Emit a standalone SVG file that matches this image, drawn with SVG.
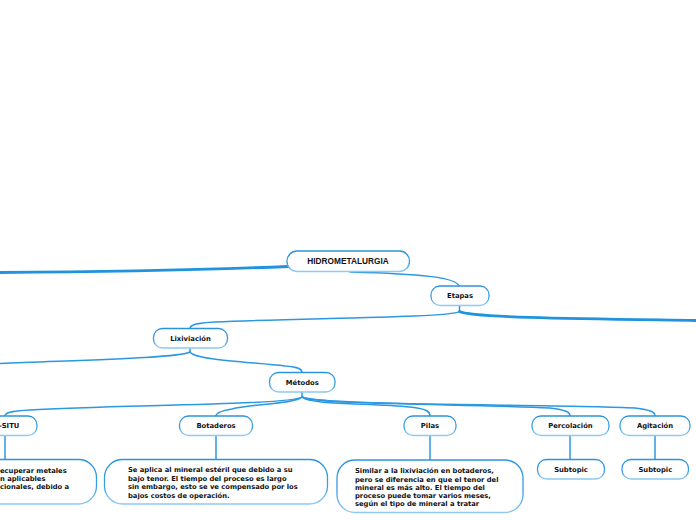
<svg xmlns="http://www.w3.org/2000/svg" width="696" height="520" viewBox="0 0 696 520">
<defs>
<linearGradient id="bd" x1="0" y1="0" x2="0" y2="1">
<stop offset="0" stop-color="#2a93dc"/>
<stop offset="0.6" stop-color="#3a9fe2"/>
<stop offset="1" stop-color="#8fcaf2"/>
</linearGradient>
<style>
.box{fill:#fff;stroke:url(#bd);stroke-width:1.3}
.lbl{font-family:"DejaVu Sans",Verdana,sans-serif;font-weight:bold;font-size:6.8px;fill:#111;text-anchor:middle}
.root{font-family:"Liberation Sans",Arial,sans-serif;font-weight:bold;font-size:8.3px;fill:#111;text-anchor:middle}
.desc{font-family:"DejaVu Sans",Verdana,sans-serif;font-weight:bold;font-size:6.75px;fill:#111}
.c{fill:none;stroke:#2b98e0;stroke-width:1.5;stroke-linecap:round}
.ct{fill:none;stroke:#2093dd;stroke-width:2.8;stroke-linecap:round}
</style>
</defs>
<rect width="696" height="520" fill="#fff"/>
<g id="connectors">
<path class="ct" d="M288 266.5 C200 270, 80 272, 0 272.5"/>
<path class="c" d="M350 272 C420 274, 456 277, 459 286"/>
<path class="c" d="M459.5 305.5 V311.5"/>
<path class="ct" d="M459.5 311.5 C470 318, 600 319, 696 320.5"/>
<path class="c" d="M459.5 311.5 C450 318, 300 318, 215 322 C196 323, 190 325, 190 328.5"/>
<path class="c" d="M190 348.5 V352"/>
<path class="c" d="M190 352 C180 358, 80 360, 0 363.5"/>
<path class="c" d="M190 352 C195 360, 250 362, 285 366 C298 367, 302 369, 302 372.5"/>
<path class="c" d="M302 392.5 V397"/>
<path class="c" d="M302 397 C290 405, 120 405, 30 410 C10 411, 5 413, 5 416"/>
<path class="c" d="M302 397 C295 404, 250 404, 232 409 C220 411, 216 413, 216 416"/>
<path class="c" d="M302 397 C310 405, 370 403, 410 407 C428 409, 430 412, 430 416"/>
<path class="c" d="M302 397 C315 405, 480 404, 550 408 C566 410, 570 412, 570 416"/>
<path class="c" d="M302 397 C320 406, 560 404, 635 408 C651 410, 655 412, 655 416"/>
<path class="c" d="M5 435.5 V459.5"/>
<path class="c" d="M216 435.5 V459.5"/>
<path class="c" d="M430 435.5 V460"/>
<path class="c" d="M570 435.5 V459.5"/>
<path class="c" d="M655 435.5 V459.5"/>
</g>
<g id="hidrometalurgia">
<rect class="box" x="287" y="251" width="122.5" height="20.5" rx="10"/>
<text class="root" x="348" y="264">HIDROMETALURGIA</text>
</g>
<g id="etapas">
<rect class="box" x="431" y="286" width="58" height="19.5" rx="9"/>
<text class="lbl" x="460" y="298.3">Etapas</text>
</g>
<g id="lixiviacion">
<rect class="box" x="153.5" y="328.5" width="74" height="19.5" rx="9"/>
<text class="lbl" x="190.5" y="340.8">Lixiviación</text>
</g>
<g id="metodos">
<rect class="box" x="269.5" y="372.5" width="65.5" height="19.5" rx="9"/>
<text class="lbl" x="302.3" y="384.8">Métodos</text>
</g>
<g id="insitu">
<rect class="box" x="-27" y="416" width="64" height="19.5" rx="9"/>
<text class="lbl" x="5" y="428.3">IN-SITU</text>
</g>
<g id="botaderos">
<rect class="box" x="179.5" y="416" width="73" height="19.5" rx="9"/>
<text class="lbl" x="216" y="428.3">Botaderos</text>
</g>
<g id="pilas">
<rect class="box" x="404" y="416" width="52" height="19.5" rx="9"/>
<text class="lbl" x="430" y="428.3">Pilas</text>
</g>
<g id="percolacion">
<rect class="box" x="532" y="416" width="77" height="19.5" rx="9"/>
<text class="lbl" x="570.5" y="428.3">Percolación</text>
</g>
<g id="agitacion">
<rect class="box" x="620" y="416" width="70" height="19.5" rx="9"/>
<text class="lbl" x="655" y="428.3">Agitación</text>
</g>
<g id="insitu-desc">
<rect class="box" x="-60" y="459.5" width="156.5" height="44.5" rx="18"/>
<text class="desc" x="0" y="472.5">ecuperar metales</text>
<text class="desc" x="0" y="480.8">n aplicables</text>
<text class="desc" x="0" y="489">cionales, debido a</text>
</g>
<g id="botaderos-desc">
<rect class="box" x="104.5" y="459.5" width="223" height="44.5" rx="18"/>
<text class="desc" x="128" y="472.3">Se aplica al mineral estéril que debido a su</text>
<text class="desc" x="128" y="481">bajo tenor. El tiempo del proceso es largo</text>
<text class="desc" x="128" y="489.3">sin embargo, esto se ve compensado por los</text>
<text class="desc" x="128" y="498">bajos costos de operación.</text>
</g>
<g id="pilas-desc">
<rect class="box" x="337" y="460" width="186" height="52.5" rx="18"/>
<text class="desc" x="355" y="473.3">Similar a la lixiviación en botaderos,</text>
<text class="desc" x="355" y="481.6">pero se diferencia en que el tenor del</text>
<text class="desc" x="355" y="489.8">mineral es más alto.  El tiempo del</text>
<text class="desc" x="355" y="498.1">proceso puede tomar varios meses,</text>
<text class="desc" x="355" y="506.3">según el tipo de mineral a tratar</text>
</g>
<g id="subtopic1">
<rect class="box" x="537.5" y="459.5" width="67" height="19.5" rx="9"/>
<text class="lbl" x="571" y="471.8">Subtopic</text>
</g>
<g id="subtopic2">
<rect class="box" x="622" y="459.5" width="66.5" height="19.5" rx="9"/>
<text class="lbl" x="655.3" y="471.8">Subtopic</text>
</g>
</svg>
